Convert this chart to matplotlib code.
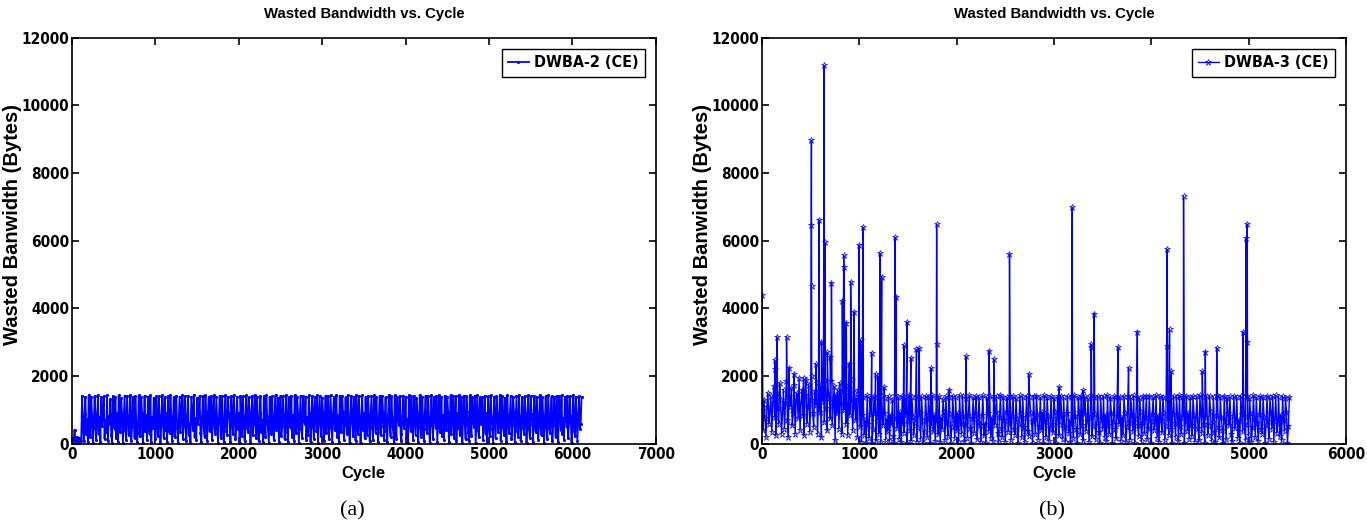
import numpy as np
import matplotlib
matplotlib.use("Agg")
import matplotlib.pyplot as plt

# values are in tens of bytes, one sample every 10 cycles

# panel (a): DWBA-2 (CE)
a_start = [15, 18, 9, 42, 12, 9, 20, 6, 17, 3, 14, 8]          # cycles 0..110
a_main = [
    142, 55, 8, 88, 139, 30, 72, 4, 144, 61, 20, 137, 85, 3, 47, 141, 90, 12, 66, 143, 28, 80, 5, 138, 52, 91, 140, 14, 70, 36,
    144, 9, 83, 60, 132, 25, 3, 141, 77, 45, 139, 18, 92, 6, 143, 58, 34, 136, 87, 2, 69, 142, 40, 11, 140, 81, 27, 63, 145, 7,
    50, 138, 89, 16, 141, 64, 4, 33, 143, 75, 22, 137, 90, 1, 56, 142, 38, 84, 10, 139, 68, 29, 144, 5, 79, 46, 136, 93, 13, 141,
    60, 24, 140, 86, 3, 52, 143, 71, 17, 138, 42, 91, 6, 141, 65, 31, 144, 83, 9, 57, 137, 20, 88, 142, 48, 2, 74, 139, 35, 92,
    143, 15, 67, 140, 54, 7, 85, 141, 27, 62, 3, 138, 90, 41, 144, 19, 76, 11, 136, 58, 94, 142, 33, 5, 81, 140, 49, 21, 143, 70,
    8, 93, 139, 37, 64, 141, 12, 84, 144, 45, 28, 137, 72, 2, 59, 142, 89, 18, 140, 53, 6, 80, 143, 39, 25, 138, 91, 66, 4, 141,
    74, 30, 144, 87, 13, 55, 139, 43, 92, 3, 142, 68, 22, 140, 81, 9, 48, 143, 61, 35, 137, 94, 1, 77, 141, 26, 58, 144, 85, 16,
    138, 50, 7, 90, 142, 34, 70, 5, 140, 63, 19, 143, 82, 44, 2, 139, 95, 29, 141, 56, 11, 88, 144, 40, 67, 136, 6, 79, 142, 23,
    53, 140, 89, 14, 62, 143, 36, 4, 138, 75, 47, 141, 21, 86, 9, 144, 58, 31, 137, 92, 3, 69, 142, 45, 17, 140, 83, 60, 139, 10,
    78, 26, 143, 91, 5, 51, 141, 66, 13, 138, 87, 39, 144, 2, 73, 140, 57, 24, 136, 94, 8, 64, 142, 32, 80, 141, 15, 49, 143, 71,
    4, 88, 139, 42, 60, 144, 19, 84, 6, 142, 70, 35, 140, 93, 12, 55, 137, 77, 28, 143, 46, 1, 89, 141, 63, 22, 138, 86, 9, 144,
    54, 30, 140, 81, 3, 67, 143, 40, 92, 16, 139, 58, 25, 142, 85, 7, 74, 141, 48, 11, 144, 90, 33, 138, 61, 4, 80, 142, 27, 53,
    141, 94, 10, 66, 138, 37, 5, 87, 144, 52, 20, 140, 79, 43, 2, 143, 69, 14, 137, 91, 56, 141, 29, 8, 83, 142, 47, 65, 139, 18,
    72, 3, 143, 89, 38, 140, 59, 12, 141, 84, 26, 136, 93, 6, 50, 144, 75, 21, 139, 62, 9, 88, 142, 44, 31, 140, 80, 2, 57, 143,
    67, 15, 138, 92, 46, 141, 5, 78, 144, 34, 61, 139, 23, 86, 11, 142, 71, 40, 137, 95, 4, 53, 143, 28, 82, 140, 17, 64, 141, 8,
    90, 48, 144, 26, 73, 139, 3, 85, 142, 57, 13, 140, 94, 36, 7, 143, 63, 22, 138, 88, 50, 141, 1, 76, 144, 41, 19, 137, 87, 60,
    139, 12, 69, 142, 30, 91, 6, 140, 54, 24, 143, 83, 45, 2, 138, 77, 16, 141, 92, 35, 59, 144, 9, 70, 140, 49, 27, 136, 86, 4,
    143, 65, 32, 89, 141, 14, 56, 139, 93, 5, 74, 142, 39, 21, 144, 82, 8, 47, 138, 68, 29, 141, 90, 3, 61, 143, 44, 18, 140, 87,
    58, 6, 142, 79, 36, 139, 94, 11, 52, 144, 70, 25, 137, 85, 2, 63, 141, 46, 15, 143, 91, 33, 72, 140, 7, 55, 138, 84, 20, 142,
    67, 4, 141, 89, 42, 143, 28, 77, 10, 139, 93, 50, 142, 16, 65, 140, 81, 3, 37, 144, 58, 24, 138, 90, 8, 71, 141, 45, 60, 138,
]

# panel (b): DWBA-3 (CE), base samples
b_early = [
    90, 40, 130, 75, 20, 110, 150, 60, 95, 140, 35, 120, 170, 80, 25, 150, 105, 60, 180, 130,
    30, 95, 160, 45, 120, 185, 70, 20, 140, 110, 165, 55, 90, 175, 30, 130, 150, 75, 195, 40,
    120, 160, 85, 25, 145, 190, 60, 110, 175, 35, 130, 200, 90, 50, 155, 115, 180, 30, 140, 95,
    170, 20, 125, 160, 65, 190, 105, 40, 150, 135, 75, 185, 55, 115, 170, 10, 145, 90, 160, 45,
    180, 120, 30, 155, 100, 175, 60, 140, 25, 165, 85, 130, 190, 40, 110, 150, 70, 135, 20, 160,
]
b_late = [
    140, 52, 6, 85, 137, 27, 70, 3, 143, 60, 18, 135, 88, 2, 45, 141, 92, 10, 68, 139, 30, 81, 4, 142, 55, 90, 136, 12, 73, 38,
    141, 7, 84, 58, 130, 22, 1, 143, 76, 47, 138, 15, 93, 5, 140, 61, 33, 134, 86, 3, 66, 144, 42, 9, 137, 80, 26, 62, 142, 6,
    48, 136, 91, 14, 140, 67, 2, 35, 142, 74, 20, 139, 89, 1, 54, 143, 37, 85, 8, 137, 69, 28, 141, 4, 78, 44, 133, 94, 11, 140,
    62, 23, 138, 87, 2, 50, 142, 72, 16, 139, 40, 90, 5, 144, 63, 30, 140, 82, 7, 59, 136, 18, 86, 143, 47, 1, 75, 137, 33, 91,
    141, 13, 65, 138, 56, 6, 84, 143, 25, 60, 2, 137, 92, 39, 142, 17, 77, 9, 135, 57, 93, 140, 31, 4, 80, 144, 48, 20, 139, 71,
    6, 94, 137, 36, 62, 142, 11, 83, 140, 43, 27, 136, 73, 1, 58, 143, 88, 19, 138, 51, 5, 79, 141, 38, 24, 139, 90, 67, 3, 142,
    73, 29, 140, 88, 12, 54, 137, 41, 93, 2, 143, 67, 21, 139, 82, 8, 46, 141, 60, 34, 136, 95, 1, 76, 142, 25, 57, 140, 84, 15,
    137, 49, 6, 91, 141, 33, 69, 4, 139, 62, 18, 144, 81, 43, 1, 138, 94, 28, 142, 55, 10, 87, 140, 39, 66, 135, 5, 78, 143, 22,
    52, 139, 88, 13, 61, 142, 35, 3, 137, 74, 46, 140, 20, 85, 8, 143, 57, 30, 136, 91, 2, 68, 141, 44, 16, 139, 82, 59, 138, 9,
    77, 25, 142, 90, 4, 50, 140, 65, 12, 137, 86, 38, 143, 1, 72, 139, 56, 23, 135, 93, 7, 63, 141, 31, 79, 140, 14, 48, 142, 70,
    3, 87, 138, 41, 59, 143, 18, 83, 5, 141, 69, 34, 139, 92, 11, 54, 136, 76, 27, 142, 45, 1, 88, 140, 62, 21, 137, 85, 8, 143,
    53, 29, 139, 80, 2, 66, 142, 39, 91, 15, 138, 57, 24, 141, 84, 6, 73, 140, 47, 10, 143, 89, 32, 137, 60, 3, 79, 141, 26, 52,
    140, 93, 9, 65, 137, 36, 4, 86, 143, 51, 19, 139, 78, 42, 1, 142, 68, 13, 136, 90, 55, 140, 28, 7, 82, 141, 46, 64, 138, 17,
    71, 2, 142, 88, 37, 139, 58, 11, 140, 83, 25, 135, 92, 5, 49, 143, 74, 20, 138, 61, 8, 87, 141, 43, 30, 139, 79, 1, 56, 142,
    66, 14, 137, 91, 45, 140, 4, 77, 143, 33, 60, 138, 22, 85, 10, 141, 70, 39, 136, 94, 3, 52, 138,
]
# spikes: cycle, bytes
spike_cycle = [0, 130, 135, 152, 251, 278, 327, 426, 505, 507, 509, 552, 583, 610, 637, 645, 670, 700, 713,
               825, 839, 842, 865, 897, 910, 946, 996, 1013, 1036, 1126, 1166, 1193, 1211, 1229, 1255, 1368,
               1377, 1457, 1489, 1529, 1587, 1614, 1735, 1794, 1797, 1924, 2094, 2332, 2381, 2543, 2740, 3054,
               3188, 3300, 3381, 3385, 3413, 3659, 3767, 3857, 4158, 4161, 4188, 4202, 4332, 4525, 4556, 4673,
               4942, 4973, 4980, 4987]
spike_value = [4400, 2470, 2220, 3160, 3160, 2250, 2070, 1940, 6470, 8970, 4650, 2360, 6620, 3010, 11180, 5950,
               2700, 2570, 4760, 4220, 5570, 5230, 3580, 2370, 4790, 3900, 5880, 3060, 6400, 2690, 2070, 2000,
               5630, 4940, 1680, 6100, 4350, 2910, 3600, 2540, 2790, 2830, 2240, 6490, 2960, 1600, 2590, 2750,
               2510, 5610, 2070, 1680, 6990, 1580, 2940, 2860, 3850, 2860, 2250, 3310, 2900, 5750, 3380, 2140,
               7310, 2140, 2720, 2830, 3310, 6070, 3000, 6490]

ya = np.array(a_start + a_main) * 10
xa = np.arange(len(ya)) * 10

yb_base = np.array(b_early + b_late) * 10
xb_base = np.arange(len(yb_base)) * 10
xb_all = np.concatenate([xb_base, spike_cycle])
yb_all = np.concatenate([yb_base, spike_value])
order = np.argsort(xb_all, kind="stable")
xb = xb_all[order]
yb = yb_all[order]

plt.rcParams['font.family'] = ['Liberation Sans', 'DejaVu Sans']
tick_font = {'family': 'DejaVu Sans', 'stretch': 'condensed', 'weight': 'bold', 'size': 11}

fig = plt.figure(figsize=(13.67, 5.24), dpi=100)
ax1 = fig.add_axes([0.0527, 0.153, 0.427, 0.775])
ax2 = fig.add_axes([0.5575, 0.153, 0.427, 0.775])

ax1.plot(xa, ya, color='#0000ff', linewidth=1.3, marker='.', markersize=2.5, label='DWBA-2 (CE)')
ax2.plot(xb, yb, color='#0000ff', linewidth=1.0, marker='*', markersize=4.5,
         markerfacecolor='none', markeredgewidth=0.5, label='DWBA-3 (CE)')

for ax, xmax, tag, tag_x in [(ax1, 7000, '(a)', 0.48), (ax2, 6000, '(b)', 0.497)]:
    ax.set_xlim(0, xmax)
    ax.set_ylim(0, 12000)
    ax.set_yticks(np.arange(0, 12001, 2000))
    ax.set_xticks(np.arange(0, xmax + 1, 1000))
    ax.tick_params(direction='in', top=True, right=True, length=5, width=1.2, pad=2)
    for lab in ax.get_xticklabels() + ax.get_yticklabels():
        lab.set_fontproperties(tick_font)
    for s in ax.spines.values():
        s.set_linewidth(1.2)
    ax.set_title('Wasted Bandwidth vs. Cycle', fontsize=10.7, fontweight='bold', pad=14.5)
    ax.set_xlabel('Cycle', fontsize=12, fontweight='bold', labelpad=3)
    ax.set_ylabel('Wasted Banwidth (Bytes)', fontsize=14.5, fontweight='bold')
    ax.yaxis.set_label_coords(-0.086, 0.54)
    leg = ax.legend(loc='upper right', fancybox=False, edgecolor='black', framealpha=1,
                    prop={'family': 'DejaVu Sans', 'stretch': 'condensed', 'weight': 'bold', 'size': 11.5},
                    handlelength=1.3, handletextpad=0.3, borderaxespad=0.7)
    leg.get_frame().set_linewidth(1.0)
    ax.text(tag_x, -0.165, tag, transform=ax.transAxes, ha='center', va='center',
            fontsize=16, family='Liberation Serif')

fig.savefig('out.png', dpi=100)
